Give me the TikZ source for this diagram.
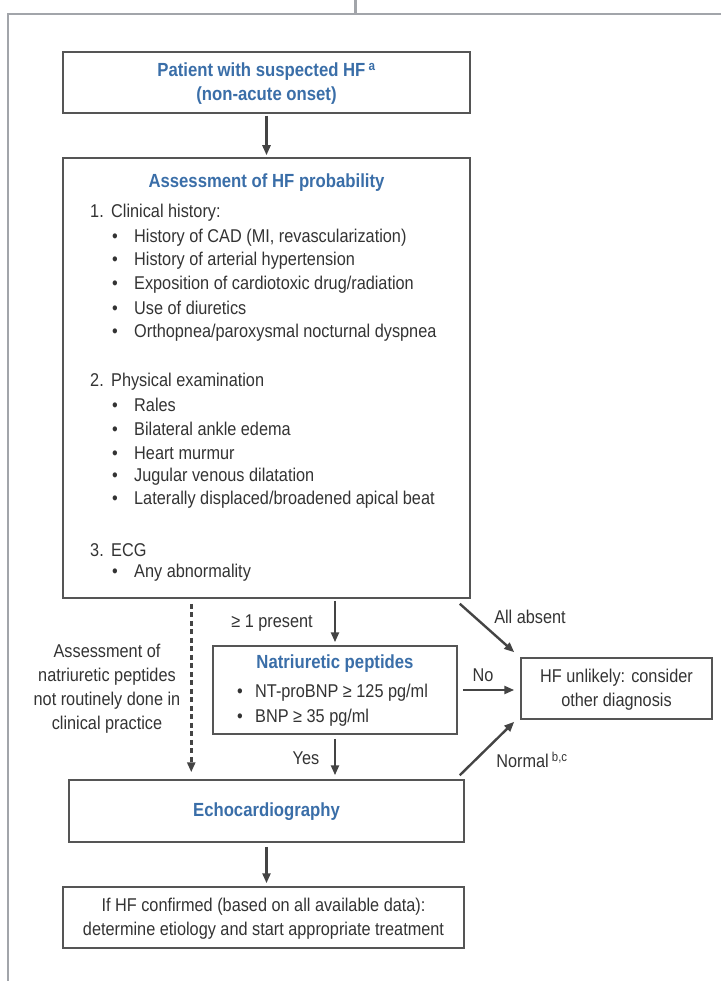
\documentclass[tikz,border=0pt]{standalone}
\usepackage{fontspec}
\setmainfont[FakeStretch=0.88]{Liberation Sans}
\usetikzlibrary{arrows.meta,calc}
\definecolor{txt}{HTML}{333333}
\definecolor{ttl}{HTML}{3A6EA8}
\definecolor{edge}{HTML}{555555}
\definecolor{frm}{HTML}{A2A5AA}
\definecolor{arc}{HTML}{444444}
\newcommand{\bl}[1]{\makebox[22pt][l]{\textbullet}#1}
\newcommand{\bln}[1]{\makebox[18pt][l]{\textbullet}#1}
\newcommand{\num}[2]{\makebox[21pt][l]{#1}#2}
\begin{document}
\begin{tikzpicture}[x=1pt,y=-1pt,
  box/.style={draw=edge,line width=1.5pt,rectangle,inner sep=0pt},
  lbl/.style={text=txt,font=\fontsize{18.5}{24}\selectfont,inner sep=0pt},
  ttlt/.style={text=ttl,font=\fontsize{19}{24}\selectfont\bfseries,inner sep=0pt},
  arr/.style={draw=arc,line width=2.4pt,-{Triangle[length=10pt,width=8pt]}},
  dasharr/.style={draw=arc,line width=3pt,dash pattern=on 5pt off 3.5pt,-{Triangle[length=10pt,width=8pt]}},
  frame/.style={draw=frm,line width=2.4pt}]
\useasboundingbox (0,0) rectangle (721,981);
% outer frame
\draw[frame] (721,14) -- (8,14) -- (8,982);
\draw[frame,line width=3pt] (355,-1) -- (355,14);
% boxes
\node[box,minimum width=407pt,minimum height=61pt] (b1) at (266.5,82.5) {};
\node[box,minimum width=407pt,minimum height=440pt] (b2) at (266.5,378) {};
\node[box,minimum width=244pt,minimum height=88pt] (np) at (335,690) {};
\node[box,minimum width=191pt,minimum height=61pt] (hfu) at (616.5,688.5) {};
\node[box,minimum width=395pt,minimum height=62pt] (echo) at (266.5,811) {};
\node[box,minimum width=401pt,minimum height=61pt] (fin) at (263.5,917.5) {};
% box 1 text
\node[ttlt,align=center] (t1) at (266.5,84) {Patient with suspected HF\,\textsuperscript{a}\\(non-acute onset)};
% box 2 text
\node[ttlt] (t2) at (266.5,183) {Assessment of HF probability};
\node[lbl,anchor=west] (c1) at (90,213) {\num{1.}{Clinical history:}};
\node[lbl,anchor=west] (c2) at (112,238) {\bl{History of CAD (MI, revascularization)}};
\node[lbl,anchor=west] (c3) at (112,261) {\bl{History of arterial hypertension}};
\node[lbl,anchor=west] (c4) at (112,285) {\bl{Exposition of cardiotoxic drug/radiation}};
\node[lbl,anchor=west] (c5) at (112,308) {\bl{Use of diuretics}};
\node[lbl,anchor=west] (c6) at (112,333) {\bl{Orthopnea/paroxysmal nocturnal dyspnea}};
\node[lbl,anchor=west] (p1) at (90,382) {\num{2.}{Physical examination}};
\node[lbl,anchor=west] (p2) at (112,405) {\bl{Rales}};
\node[lbl,anchor=west] (p3) at (112,429) {\bl{Bilateral ankle edema}};
\node[lbl,anchor=west] (p4) at (112,453) {\bl{Heart murmur}};
\node[lbl,anchor=west] (p5) at (112,477) {\bl{Jugular venous dilatation}};
\node[lbl,anchor=west] (p6) at (112,500) {\bl{Laterally displaced/broadened apical beat}};
\node[lbl,anchor=west] (e1) at (90,550) {\num{3.}{ECG}};
\node[lbl,anchor=west] (e2) at (112,573) {\bl{Any abnormality}};
% natriuretic box text
\node[ttlt] (t3) at (335,664) {Natriuretic peptides};
\node[lbl,anchor=west] (n1) at (237,693) {\bln{NT-proBNP ≥ 125 pg/ml}};
\node[lbl,anchor=west] (n2) at (237,718) {\bln{BNP ≥ 35 pg/ml}};
% HF unlikely text
\node[lbl,align=center] (t4) at (616.5,690) {HF unlikely: consider\\other diagnosis};
% echo text
\node[ttlt] (t5) at (266.5,812) {Echocardiography};
% final text
\node[lbl,align=center] (t6) at (263.5,919) {If HF confirmed (based on all available data):\\determine etiology and start appropriate treatment};
% connectors
\draw[arr,shorten <=2pt,shorten >=2pt] (b1.south) -- (b1.south |- b2.north);
\draw[arr,shorten <=2pt,shorten >=3pt] (np.north |- b2.south) -- (np.north);
\draw[arr,shorten <=4pt,shorten >=4pt] (np.south) -- (np.south |- echo.north);
\draw[arr,shorten <=4pt,shorten >=3pt] (echo.south) -- (echo.south |- fin.north);
\draw[arr,shorten <=5pt,shorten >=6pt] (np.east) -- (np.east -| hfu.west);
\draw[arr] ($(b2.south east)+(-11,5)$) -- ($(hfu.north west)+(-6,-5)$);
\draw[arr] ($(echo.north east)+(-5,-4)$) -- ($(hfu.south west)+(-6,2)$);
\coordinate (d0) at ($(b2.south west)+(129,5)$);
\draw[dasharr,shorten >=7pt] (d0) -- (d0 |- echo.north);
% connector labels
\node[lbl] (l1) at (272,623) {≥ 1 present};
\node[lbl] (l2) at (306,758) {Yes};
\node[lbl] (l3) at (483,675) {No};
\node[lbl] (l4) at (530,617) {All absent};
\node[lbl] (l5) at (532,760) {Normal\,\textsuperscript{b,c}};
\node[lbl,align=center] (l6) at (107,689) {Assessment of\\natriuretic peptides\\not routinely done in\\clinical practice};
\end{tikzpicture}
\end{document}
